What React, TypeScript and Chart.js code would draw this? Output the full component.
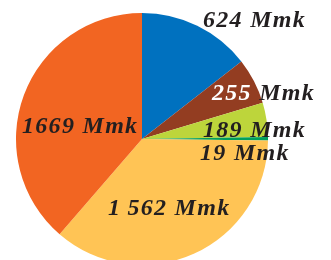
import React, { useEffect, useRef } from "react";
import { Chart, registerables } from "chart.js";

Chart.register(...registerables);

const categories = ["A", "B", "C", "D", "E", "F"];
const values = [624, 255, 189, 19, 1562, 1669];
const valueLabels = ["624", "255", "189", "19", "1\u2009562", "1669"];
const unit = "Mmk";
const colors = ["#0071BF", "#933D21", "#BDD53B", "#009F5C", "#FFC455", "#F26522"];

// label placement relative to pie centre (left x, baseline y)
const labelOffsets: [number, number][] = [
  [61, -112],
  [70, -39],
  [61, -2],
  [58, 21],
  [-34, 76],
  [-120, -6],
];
const numberColors = ["#231F20", "#FFFFFF", "#231F20", "#231F20", "#231F20", "#231F20"];

const labelPlugin = {
  id: "sliceLabels",
  afterDatasetsDraw(chart: any) {
    const ctx = chart.ctx as CanvasRenderingContext2D;
    const meta = chart.getDatasetMeta(0);
    ctx.save();
    ctx.font = "italic bold 24px 'Liberation Serif', serif";
    (ctx as any).letterSpacing = "1.3px";
    ctx.textAlign = "left";
    ctx.textBaseline = "alphabetic";
    meta.data.forEach((arc: any, i: number) => {
      const x = arc.x + labelOffsets[i][0];
      const y = arc.y + labelOffsets[i][1];
      const num = valueLabels[i];
      ctx.fillStyle = numberColors[i];
      ctx.fillText(num, x, y);
      const w = ctx.measureText(num + " ").width;
      ctx.fillStyle = "#231F20";
      ctx.fillText(unit, x + w, y);
    });
    ctx.restore();
  },
};

export default function App() {
  const ref = useRef<HTMLCanvasElement>(null);
  useEffect(() => {
    if (!ref.current) return;
    const chart = new Chart(ref.current, {
      type: "pie",
      data: {
        labels: categories,
        datasets: [
          {
            data: values,
            backgroundColor: colors,
            borderWidth: 0,
            clip: false as any,
          },
        ],
      },
      options: {
        responsive: false,
        animation: false,
        radius: 126,
        layout: { padding: { left: 0, right: 47, top: 0, bottom: 22 } },
        plugins: {
          legend: { display: false },
          tooltip: { enabled: false },
        },
      } as any,
      plugins: [labelPlugin],
    });
    return () => chart.destroy();
  }, []);
  return (
    <div style={{ position: "absolute", left: 0, top: 0, width: 331, height: 300 }}>
      <canvas ref={ref} width={331} height={300} />
    </div>
  );
}
